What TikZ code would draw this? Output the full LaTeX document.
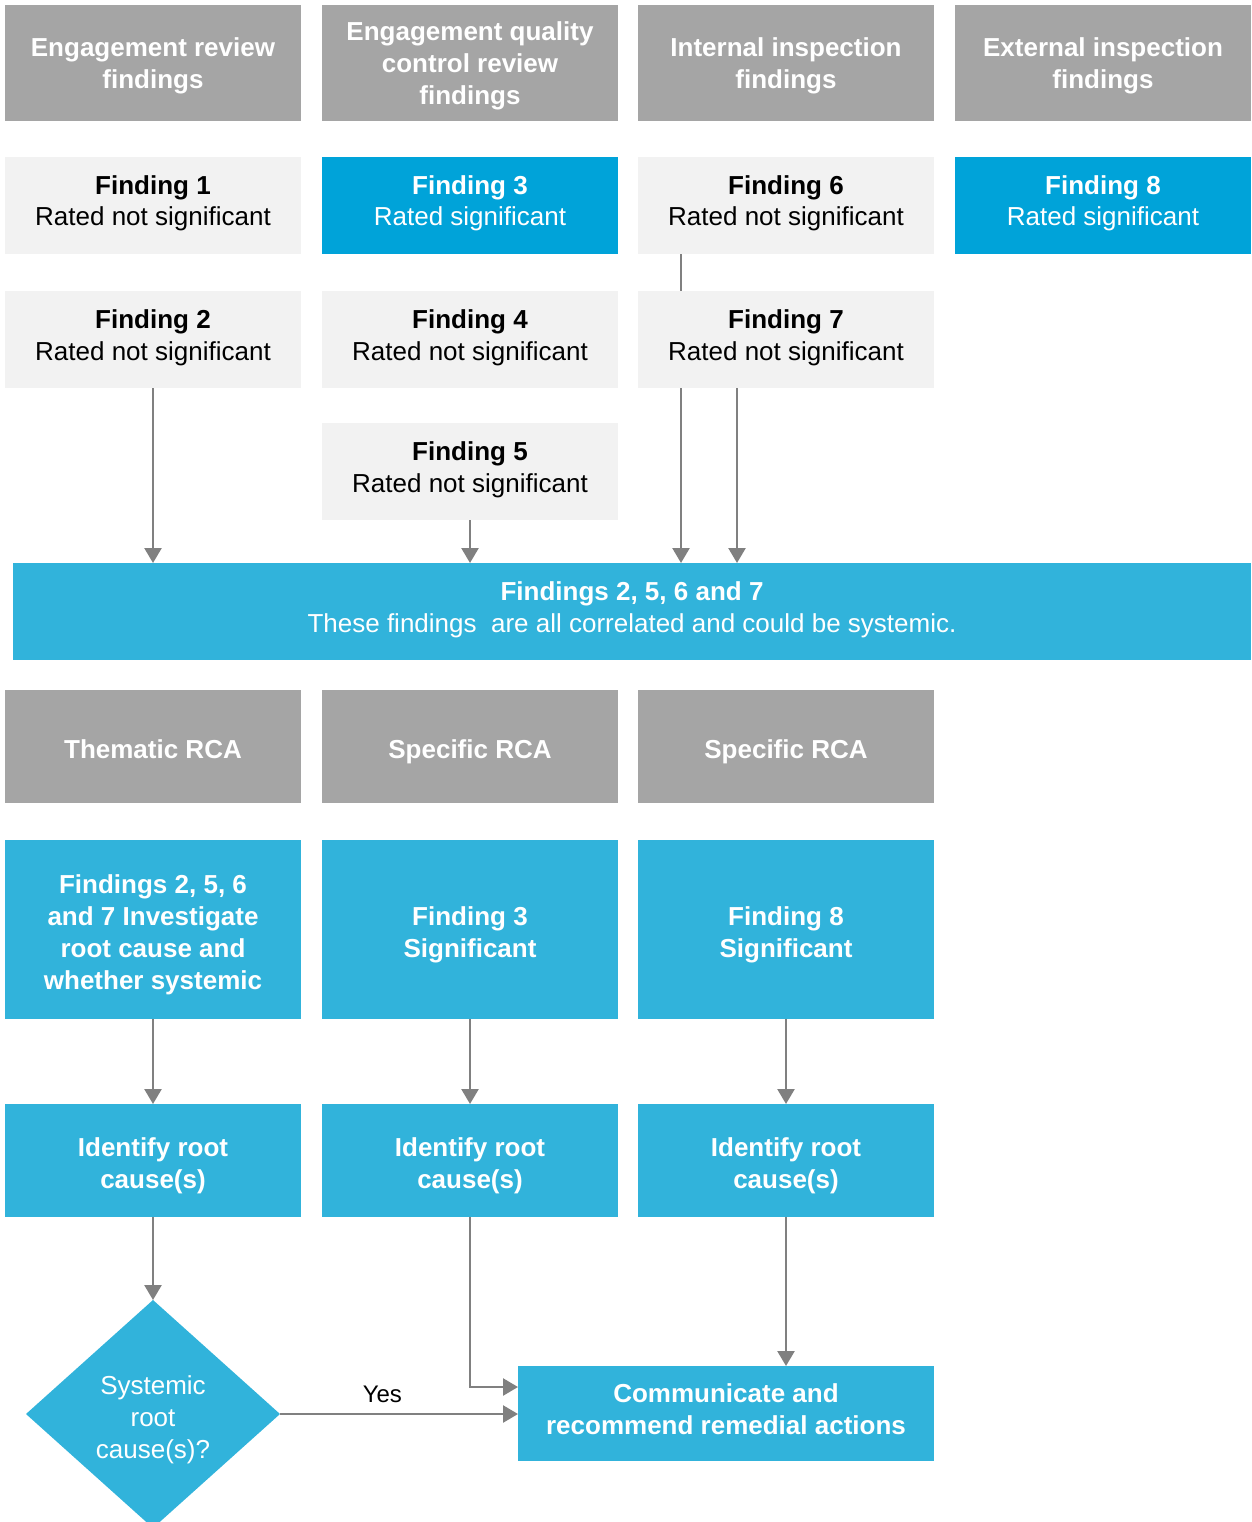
\documentclass[tikz,border=0pt]{standalone}
\usepackage{fontspec}
\setmainfont{Liberation Sans}
\usetikzlibrary{shapes.geometric,arrows.meta,backgrounds}
\definecolor{hdrgray}{HTML}{A5A5A5}
\definecolor{lightbox}{HTML}{F2F2F2}
\definecolor{brightblue}{HTML}{00A3D9}
\definecolor{midblue}{HTML}{31B3DB}
\definecolor{linegray}{HTML}{808080}
% vertical struts to place text as in the reference
\newcommand\hdrT{\rule{0pt}{26pt}}
\newcommand\hdrD{\rule[-6.5pt]{0pt}{6.5pt}}
\newcommand\blT{\rule{0pt}{30pt}}
\newcommand\blD{\rule[-6.4pt]{0pt}{6.4pt}}
\newcommand\lgT{\rule{0pt}{21pt}}
\newcommand\lgD{\rule[-12pt]{0pt}{12pt}}
\newcommand\dmT{\rule{0pt}{31pt}}
\newcommand\dmD{\rule[-6.4pt]{0pt}{6.4pt}}
\tikzset{
  base/.style={anchor=north west, inner sep=0pt, outer sep=0pt, align=center,
    minimum width=296pt, font=\fontsize{26}{32}\selectfont},
  hdr/.style={base, fill=hdrgray, text=white, font=\fontsize{26}{32}\selectfont\bfseries},
  lbox/.style={base, fill=lightbox, text=black, minimum height=97pt},
  bbox/.style={base, fill=brightblue, text=white, minimum height=97pt},
  mbox/.style={base, fill=midblue, text=white, font=\fontsize{26}{32}\selectfont\bfseries},
  conn/.style={draw=linegray, line width=2.5pt, -{Triangle[width=17pt,length=15pt]}},
}
\begin{document}
\begin{tikzpicture}[x=1pt,y=-1pt]
\useasboundingbox (0,0) rectangle (1251,1522);
% headers
\node[hdr, minimum height=116pt] (h1) at (5,5) {\hdrT Engagement review\\findings\hdrD};
\node[hdr, minimum height=116pt] (h2) at (322,5) {\hdrT Engagement quality\\control review\\findings\hdrD};
\node[hdr, minimum height=116pt] (h3) at (638,5) {\hdrT Internal inspection\\findings\hdrD};
\node[hdr, minimum height=116pt] (h4) at (955,5) {\hdrT External inspection\\findings\hdrD};
% findings
\node[lbox] (f1) at (5,157) {\lgT\textbf{Finding 1}\\Rated not significant\lgD};
\node[bbox] (f3) at (322,157) {\lgT\textbf{Finding 3}\\Rated significant\lgD};
\node[lbox] (f6) at (638,157) {\lgT\textbf{Finding 6}\\Rated not significant\lgD};
\node[bbox] (f8) at (955,157) {\lgT\textbf{Finding 8}\\Rated significant\lgD};
\node[lbox] (f2) at (5,291) {\lgT\textbf{Finding 2}\\Rated not significant\lgD};
\node[lbox] (f4) at (322,291) {\lgT\textbf{Finding 4}\\Rated not significant\lgD};
\node[lbox] (f7) at (638,291) {\lgT\textbf{Finding 7}\\Rated not significant\lgD};
\node[lbox] (f5) at (322,423) {\lgT\textbf{Finding 5}\\Rated not significant\lgD};
% bar
\node[base, fill=midblue, text=white, minimum width=1238pt, minimum height=97pt] (bar) at (13,563)
  {\lgT\textbf{Findings 2, 5, 6 and 7}\\These findings\ \ are all correlated and could be systemic.\lgD};
% RCA headers
\node[hdr, minimum height=113pt] (r1) at (5,690) {\blT Thematic RCA\blD};
\node[hdr, minimum height=113pt] (r2) at (322,690) {\blT Specific RCA\blD};
\node[hdr, minimum height=113pt] (r3) at (638,690) {\blT Specific RCA\blD};
% blue boxes
\node[mbox, minimum height=179pt] (b1) at (5,840) {\blT Findings 2, 5, 6\\and 7 Investigate\\root cause and\\whether systemic\blD};
\node[mbox, minimum height=179pt] (b2) at (322,840) {\blT Finding 3\\Significant\blD};
\node[mbox, minimum height=179pt] (b3) at (638,840) {\blT Finding 8\\Significant\blD};
% identify
\node[mbox, minimum height=113pt] (i1) at (5,1104) {\blT Identify root\\cause(s)\blD};
\node[mbox, minimum height=113pt] (i2) at (322,1104) {\blT Identify root\\cause(s)\blD};
\node[mbox, minimum height=113pt] (i3) at (638,1104) {\blT Identify root\\cause(s)\blD};
% communicate
\node[mbox, minimum width=416pt, minimum height=95pt] (comm) at (518,1366) {\lgT Communicate and\\recommend remedial actions\lgD};
% diamond
\node[shape=diamond, fill=midblue, text=white, inner sep=0pt, outer sep=0pt, aspect=1.114,
  minimum width=254pt, minimum height=228pt, align=center,
  font=\fontsize{26}{32}\selectfont] (dia) at (153,1414) {\dmT Systemic\\root\\cause(s)?\dmD};
% connectors
\begin{scope}[on background layer]
\draw[conn] ([xshift=43pt]f6.south west) -- ([xshift=43pt]f6.south west |- bar.north);
\end{scope}
\draw[conn] (f2.south) -- (f2.south |- bar.north);
\draw[conn] (f5.south) -- (f5.south |- bar.north);
\draw[conn] ([xshift=99pt]f7.south west) -- ([xshift=99pt]f7.south west |- bar.north);
\draw[conn] (b1.south) -- (i1.north);
\draw[conn] (b2.south) -- (i2.north);
\draw[conn] (b3.south) -- (i3.north);
\draw[conn] (i1.south) -- (dia.north);
\coordinate (cin) at ([yshift=-21pt]comm.north west);
\draw[conn] (i2.south) |- (cin);
\draw[conn] (i3.south) -- (i3.south |- comm.north);
\draw[conn] (dia.east) -- node[above=7pt, text=black, font=\fontsize{24}{28}\selectfont, pos=0.43] (yes) {Yes} (dia.east -| comm.west);
\end{tikzpicture}
\end{document}
